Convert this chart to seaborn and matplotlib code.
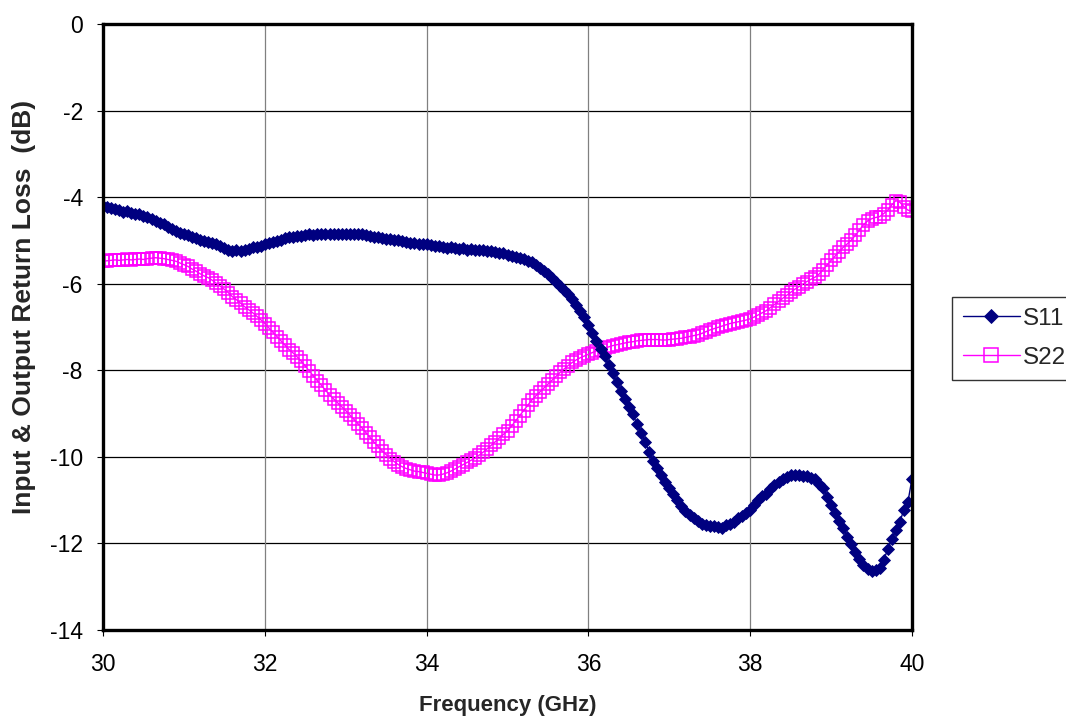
import numpy as np
import pandas as pd
import matplotlib
matplotlib.use("Agg")
import matplotlib.pyplot as plt
import seaborn as sns

# ---- data -------------------------------------------------------------
# frequency sweep 30..40 GHz, 201 points (0.05 GHz step)
freq = np.round(np.linspace(30.0, 40.0, 201), 2)

s11 = [
    -4.20, -4.22, -4.25, -4.27, -4.30, -4.34, -4.33, -4.36, -4.40, -4.38,
    -4.43, -4.47, -4.50, -4.55, -4.60, -4.63, -4.69, -4.74, -4.78, -4.82,
    -4.86, -4.88, -4.92, -4.95, -4.98, -5.01, -5.03, -5.05, -5.09, -5.14,
    -5.18, -5.22, -5.24, -5.22, -5.24, -5.23, -5.20, -5.16, -5.15, -5.12,
    -5.09, -5.06, -5.04, -5.02, -4.98, -4.95, -4.92, -4.91, -4.89, -4.90,
    -4.87, -4.86, -4.87, -4.85, -4.86, -4.84, -4.86, -4.85, -4.84, -4.85,
    -4.84, -4.86, -4.84, -4.85, -4.84, -4.87, -4.89, -4.92, -4.93, -4.95,
    -4.96, -4.97, -4.99, -5.00, -5.02, -5.04, -5.05, -5.06, -5.08, -5.09,
    -5.09, -5.11, -5.13, -5.13, -5.15, -5.17, -5.16, -5.18, -5.19, -5.18,
    -5.21, -5.20, -5.22, -5.21, -5.23, -5.24, -5.24, -5.26, -5.28, -5.30,
    -5.33, -5.36, -5.38, -5.41, -5.44, -5.47, -5.50, -5.56, -5.63, -5.71,
    -5.78, -5.86, -5.96, -6.06, -6.14, -6.24, -6.36, -6.49, -6.63, -6.78,
    -6.95, -7.13, -7.32, -7.50, -7.68, -7.88, -8.07, -8.28, -8.48, -8.66,
    -8.85, -9.02, -9.24, -9.44, -9.65, -9.88, -10.10, -10.26, -10.43, -10.58,
    -10.72, -10.86, -11.00, -11.13, -11.24, -11.34, -11.42, -11.49, -11.55, -11.58,
    -11.60, -11.59, -11.62, -11.64, -11.58, -11.56, -11.50, -11.42, -11.36, -11.29,
    -11.22, -11.12, -11.00, -10.91, -10.85, -10.74, -10.65, -10.58, -10.50, -10.46,
    -10.42, -10.43, -10.41, -10.45, -10.44, -10.48, -10.52, -10.62, -10.72, -10.92,
    -11.12, -11.30, -11.48, -11.65, -11.84, -12.02, -12.20, -12.36, -12.50, -12.60,
    -12.63, -12.62, -12.56, -12.38, -12.14, -11.90, -11.70, -11.50, -11.22, -11.04,
    -10.50,
]

s22 = [
    -5.48, -5.47, -5.46, -5.45, -5.46, -5.45, -5.44, -5.45, -5.44, -5.43,
    -5.44, -5.42, -5.41, -5.40, -5.41, -5.42, -5.44, -5.46, -5.48, -5.52,
    -5.56, -5.60, -5.66, -5.71, -5.77, -5.82, -5.86, -5.92, -5.99, -6.06,
    -6.13, -6.21, -6.30, -6.37, -6.45, -6.53, -6.60, -6.67, -6.75, -6.83,
    -6.92, -7.02, -7.12, -7.22, -7.32, -7.42, -7.52, -7.60, -7.69, -7.79,
    -7.90, -8.02, -8.13, -8.24, -8.35, -8.46, -8.57, -8.66, -8.75, -8.84,
    -8.93, -9.03, -9.13, -9.23, -9.33, -9.44, -9.55, -9.66, -9.76, -9.86,
    -9.95, -10.04, -10.11, -10.18, -10.23, -10.27, -10.30, -10.33, -10.34, -10.36,
    -10.38, -10.40, -10.42, -10.42, -10.40, -10.37, -10.33, -10.28, -10.23, -10.18,
    -10.13, -10.08, -10.03, -9.96, -9.89, -9.81, -9.73, -9.65, -9.56, -9.48,
    -9.40, -9.29, -9.17, -9.05, -8.93, -8.81, -8.69, -8.59, -8.50, -8.41,
    -8.32, -8.23, -8.14, -8.05, -7.97, -7.89, -7.82, -7.76, -7.71, -7.67,
    -7.63, -7.59, -7.55, -7.52, -7.49, -7.46, -7.43, -7.41, -7.39, -7.37,
    -7.35, -7.34, -7.32, -7.31, -7.30, -7.29, -7.29, -7.29, -7.30, -7.30,
    -7.29, -7.28, -7.27, -7.26, -7.24, -7.22, -7.20, -7.18, -7.15, -7.11,
    -7.07, -7.04, -7.01, -6.98, -6.95, -6.92, -6.90, -6.88, -6.86, -6.84,
    -6.81, -6.77, -6.72, -6.67, -6.62, -6.55, -6.48, -6.41, -6.34, -6.27,
    -6.20, -6.13, -6.07, -6.01, -5.95, -5.90, -5.85, -5.78, -5.68, -5.57,
    -5.46, -5.36, -5.26, -5.16, -5.08, -4.99, -4.88, -4.76, -4.64, -4.55,
    -4.50, -4.47, -4.45, -4.38, -4.30, -4.18, -4.08, -4.12, -4.22, -4.30,
    -4.33,
]

x_ticks = [30, 32, 34, 36, 38, 40]
y_ticks = [0, -2, -4, -6, -8, -10, -12, -14]
series_names = ["S11", "S22"]
x_label = "Frequency (GHz)"
y_label = "Input & Output Return Loss  (dB)"

# ---- style ------------------------------------------------------------
sns.set_style("white")
plt.rcParams["font.family"] = ["Liberation Sans", "DejaVu Sans"]
plt.rcParams["axes.unicode_minus"] = False

fig = plt.figure(figsize=(10.66, 7.2), dpi=100)
ax = fig.add_axes([103 / 1066, 1 - 630 / 720, (912 - 103) / 1066, (630 - 24) / 720])

navy = "#000080"
magenta = "#FF00FF"

sns.lineplot(x=freq, y=s11, ax=ax, color=navy, lw=1.0, marker="D",
             markersize=6.2, markerfacecolor=navy, markeredgecolor=navy,
             markeredgewidth=0.6, label=series_names[0], estimator=None,
             sort=False, zorder=4)
sns.lineplot(x=freq, y=s22, ax=ax, color=magenta, lw=1.0, marker="s",
             markersize=8.8, markerfacecolor="none", markeredgecolor=magenta,
             markeredgewidth=1.1, label=series_names[1], estimator=None,
             sort=False, zorder=3)

ax.set_xlim(30, 40)
ax.set_ylim(-14, 0)
ax.set_xticks(x_ticks)
ax.set_yticks(y_ticks)

# grid: horizontal black, vertical grey
ax.grid(False)
for yv in y_ticks[1:-1]:
    ax.axhline(yv, color="black", lw=0.9, zorder=1)
for xv in x_ticks[1:-1]:
    ax.axvline(xv, color="#808080", lw=0.9, zorder=1)

for sp in ax.spines.values():
    sp.set_visible(True)
    sp.set_color("black")
    sp.set_linewidth(2.4)
    sp.set_zorder(5)

ax.tick_params(axis="both", direction="out", length=4.5, width=0.8,
               color="black", labelsize=16.5, labelcolor="black")
ax.tick_params(axis="x", pad=12)
ax.tick_params(axis="y", pad=10)
ax.tick_params(left=True, bottom=True)

ax.set_xlabel(x_label, fontsize=16, fontweight="bold", labelpad=14)
ax.set_ylabel(y_label, fontsize=19, fontweight="bold")
ax.yaxis.set_label_coords(-0.083, 0.533)

ax.get_legend().remove()
handles, labels = ax.get_legend_handles_labels()
leg = fig.legend(handles, labels, loc="upper left",
                 bbox_to_anchor=(952 / 1066, 1 - 297 / 720),
                 fontsize=17.5, frameon=True, fancybox=False, shadow=False,
                 handlelength=2.35, handletextpad=0.1, labelspacing=0.7,
                 borderpad=0.45, borderaxespad=0.0, markerscale=1.1)
leg.get_frame().set_edgecolor("black")
leg.get_frame().set_linewidth(1.0)

fig.savefig("out.png", dpi=100)
